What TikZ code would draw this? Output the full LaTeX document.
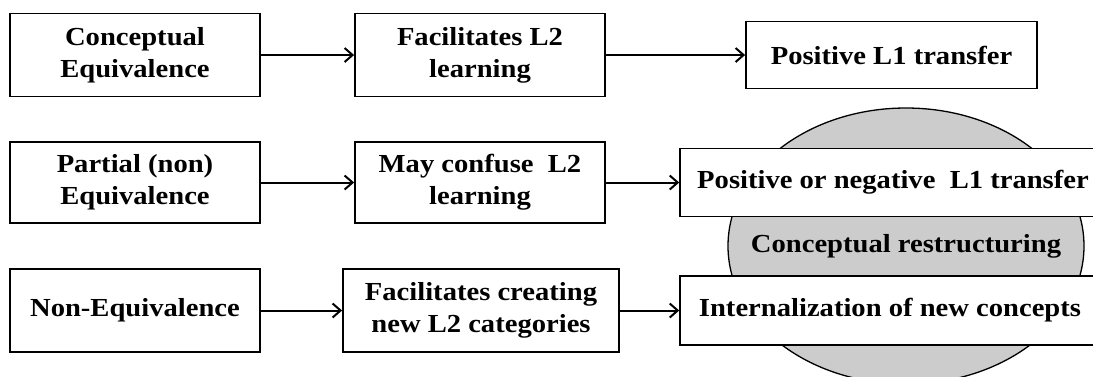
\documentclass[tikz,border=0pt]{standalone}
\usepackage{fontspec}
\setmainfont{Liberation Serif}[FakeStretch=1.1]
\usetikzlibrary{arrows.meta,shapes.geometric}
\begin{document}
\begin{tikzpicture}[x=1pt,y=-1pt,
  txt/.style={font=\bfseries\fontsize{26}{32}\selectfont,align=center,inner sep=0pt},
  box/.style={txt,draw,line width=1.8pt,fill=white},
  sidebox/.style={txt,draw,line width=1.5pt,fill=white},
  arr/.style={line width=2pt,-{Straight Barb[length=8pt,width=14pt]}}]
\useasboundingbox (0,0) rectangle (1093,376);
\clip (0,0) rectangle (1093,376);
% row 1
\node[box,minimum width=250pt,minimum height=83pt] (ce) at (135,55) {Conceptual\\Equivalence};
\node[box,minimum width=250pt,minimum height=83pt] (fl) at (480,55) {Facilitates L2\\learning};
\node[box,minimum width=291pt,minimum height=67pt] (pt) at (891.5,55) {Positive L1 transfer};
% row 2
\node[box,minimum width=250pt,minimum height=81pt] (pe) at (135,182.5) {Partial (non)\\Equivalence};
\node[box,minimum width=250pt,minimum height=81pt] (mc) at (480,182.5) {May confuse\ \ L2\\learning};
% circle
\node[ellipse,draw,line width=1.3pt,fill=black!20,inner sep=0pt,minimum width=356pt,minimum height=276pt] (circ) at (906,246) {};
\node[txt] (cr) at (circ.center) {Conceptual restructuring};
\node[sidebox,minimum width=426pt,minimum height=68pt] (pn) at (893,182.5) {Positive or negative\ \ L1 transfer};
\node[sidebox,minimum width=420pt,minimum height=69pt] (in) at (890,310.5) {Internalization of new concepts};
% row 3
\node[box,minimum width=250pt,minimum height=83pt] (ne) at (135,310.5) {Non-Equivalence};
\node[box,minimum width=276pt,minimum height=83pt] (fc) at (481,310.5) {Facilitates creating\\new L2 categories};
% arrows
\draw[arr] (ce) -- (fl);
\draw[arr] (fl) -- (pt);
\draw[arr] (pe) -- (mc);
\draw[arr] (mc) -- (pn);
\draw[arr] (ne) -- (fc);
\draw[arr] (fc) -- (in);
\end{tikzpicture}
\end{document}
